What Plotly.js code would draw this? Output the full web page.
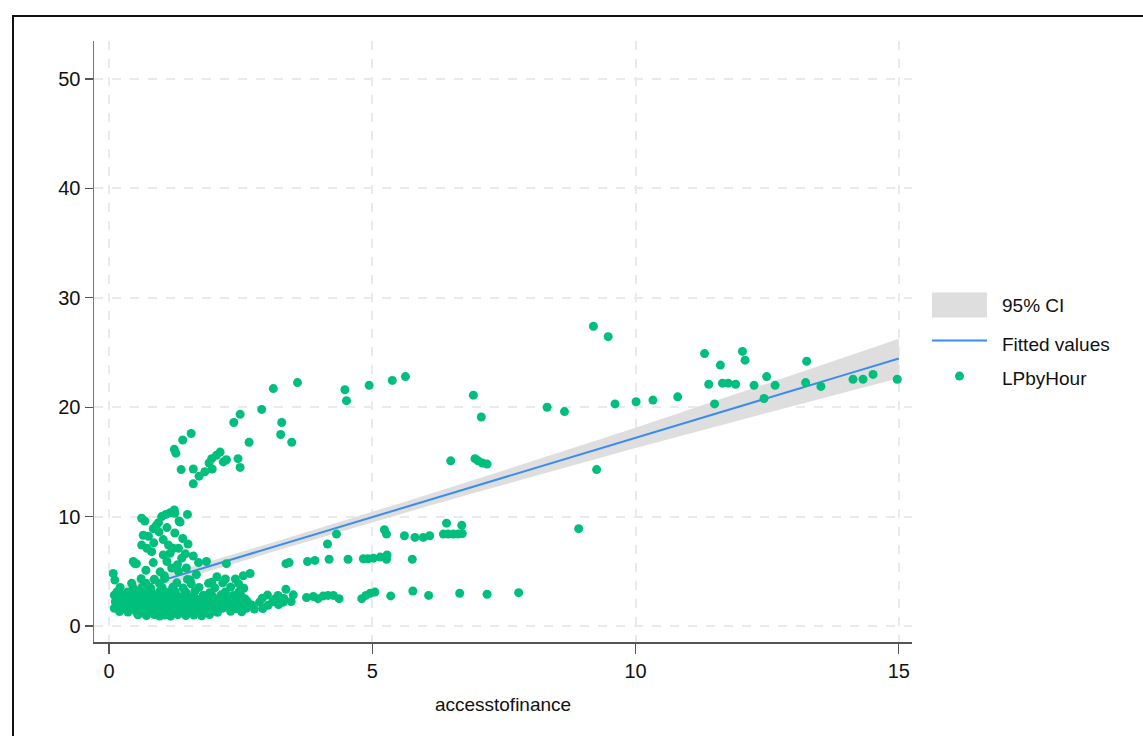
<!DOCTYPE html>
<html>
<head>
<meta charset="utf-8">
<script src="https://cdn.plot.ly/plotly-3.0.1.min.js"></script>
<style>
  html, body { margin: 0; padding: 0; background: #fff; }
  #frame { position: absolute; left: 12px; top: 15px; width: 1131px; height: 721px;
           border-left: 2px solid #111; border-top: 2px solid #111; pointer-events: none; z-index: 5; }
  #chart { position: absolute; left: 0; top: 0; width: 1143px; height: 736px; }
</style>
</head>
<body>
<div id="chart"></div>
<div id="frame"></div>
<script>
// ---- Data ----
// Fitted regression line and 95% confidence band
const fitX   = [0.1, 1, 2, 3, 4, 5, 6, 7, 8, 9, 10, 11, 12, 13, 14, 15];
const fitY   = [2.85, 4.15, 5.6, 7.05, 8.5, 9.95, 11.4, 12.85, 14.3, 15.75, 17.2, 18.65, 20.1, 21.55, 23.0, 24.45];
const ciLow  = [2.30, 3.67, 5.16, 6.62, 8.06, 9.48, 10.88, 12.25, 13.60, 14.95, 16.28, 17.55, 18.85, 20.10, 21.40, 22.65];
const ciHigh = [3.40, 4.63, 6.04, 7.48, 8.94, 10.42, 11.92, 13.45, 15.00, 16.55, 18.12, 19.75, 21.35, 23.00, 24.60, 26.25];

// LPbyHour observations (accesstofinance, LPbyHour)
const accessToFinance = [
  // upper-left group
  3.12, 3.58, 2.90, 2.49, 2.37, 3.28, 3.26, 3.47, 2.66, 1.56, 1.40, 1.24, 1.27, 1.37, 1.60, 1.60, 1.71, 1.82, 1.96, 1.95, 2.04, 2.11, 2.23, 2.17, 2.45, 2.49, 1.90,
  // mid group
  4.48, 4.51, 4.94, 5.38, 5.63, 6.92, 7.07, 8.32, 6.49, 6.95, 7.01, 7.09, 7.18, 6.41, 6.70,
  6.35, 6.44, 6.54, 6.63, 6.71, 6.09, 5.97, 5.81, 5.61, 5.23, 5.27, 4.32, 4.15,
  3.36, 3.42, 3.77, 3.91, 4.18, 4.54, 4.83, 4.92, 5.02, 5.15, 5.28, 5.27, 5.76,
  3.75, 3.88, 3.97, 4.07, 4.16, 4.26, 4.37, 4.80, 4.88, 4.96, 5.05,
  5.35, 5.77, 6.07, 6.66, 7.18, 7.78, 3.50,
  // right group
  8.65, 9.20, 9.48, 9.61, 10.01, 10.33, 10.80,
  11.31, 11.39, 11.50, 11.61, 11.65, 11.76, 11.90, 12.03, 12.08, 12.25, 12.44, 12.49, 12.65, 13.25, 13.23, 13.52, 14.13, 14.32, 14.51, 14.97,
  9.26, 8.92,
  // cluster 4-11
  0.62, 0.68, 1.00, 1.08, 1.16, 1.24, 1.33, 1.49, 1.25, 1.35, 0.94, 0.84, 0.65, 0.75, 0.62, 0.72, 0.81, 1.03, 1.13, 1.22, 1.32, 1.03, 1.16, 1.38,
  0.49, 0.46, 0.52, 0.84, 0.97, 1.19, 1.32, 1.47, 1.85, 2.23, 2.68, 0.08, 0.11, 0.43, 1.54, 1.66,
  0.90, 1.10, 0.95, 1.25, 1.40, 0.85, 1.50, 1.45, 1.60, 1.10, 1.30, 1.70, 0.70, 1.05, 2.05, 2.40, 2.55, 1.95,
  // dense lower cluster
  0.55, 0.71, 0.86, 0.96, 1.06, 1.17, 1.31, 1.46, 1.61, 1.76, 1.91,
  0.20, 0.36, 0.51, 0.66, 0.81, 1.01, 1.21, 1.41, 1.56, 1.71, 1.86, 2.06, 2.31, 2.52,
  0.10, 0.25, 0.41, 0.60, 0.76, 0.91, 1.11, 1.26, 1.36, 1.51, 1.66, 1.81, 2.01, 2.16, 2.41, 2.61, 2.76, 2.92,
  0.15, 0.31, 0.45, 0.56, 0.70, 0.86, 1.00, 1.16, 1.31, 1.46, 1.61, 1.76, 1.96, 2.11, 2.31, 2.56, 2.71, 3.02, 3.22,
  0.12, 0.22, 0.38, 0.50, 0.63, 0.78, 0.93, 1.08, 1.23, 1.38, 1.56, 1.71, 1.88, 2.06, 2.26, 2.46, 2.63, 2.86, 3.11, 3.31, 3.46,
  0.18, 0.32, 0.48, 0.61, 0.73, 0.88, 1.03, 1.18, 1.33, 1.51, 1.66, 1.83, 2.01, 2.21, 2.41, 2.59, 2.91, 3.16, 3.32,
  0.10, 0.26, 0.42, 0.58, 0.69, 0.83, 0.98, 1.13, 1.28, 1.43, 1.61, 1.79, 1.96, 2.13, 2.36, 2.51, 3.01, 3.21, 3.36,
  0.15, 0.35, 0.53, 0.66, 0.80, 0.96, 1.11, 1.26, 1.46, 1.63, 1.91, 2.21, 2.46,
  0.21, 0.46, 0.63, 0.79, 1.01, 1.21, 1.41, 1.71, 2.01, 2.31, 2.56,
  0.70, 0.96, 1.29, 1.56, 1.89, 2.16, 2.46,
  0.61, 0.86, 1.06, 1.49, 2.21
];
const lpByHour = [
  // upper-left group
  21.7, 22.25, 19.8, 19.35, 18.6, 18.6, 17.5, 16.8, 16.8, 17.6, 17.0, 16.15, 15.8, 14.3, 14.35, 13.0, 13.7, 14.1, 14.35, 15.3, 15.6, 15.9, 15.2, 15.0, 15.3, 14.5, 14.9,
  // mid group
  21.6, 20.6, 22.0, 22.45, 22.8, 21.1, 19.1, 20.0, 15.1, 15.3, 15.1, 14.9, 14.8, 9.4, 9.2,
  8.4, 8.4, 8.4, 8.4, 8.45, 8.25, 8.1, 8.1, 8.25, 8.8, 8.4, 8.4, 7.5,
  5.7, 5.8, 5.9, 6.0, 6.1, 6.1, 6.15, 6.15, 6.2, 6.3, 6.5, 6.1, 6.1,
  2.6, 2.7, 2.5, 2.75, 2.8, 2.8, 2.5, 2.5, 2.8, 3.0, 3.1,
  2.75, 3.2, 2.8, 3.0, 2.9, 3.05, 2.85,
  // right group
  19.6, 27.4, 26.45, 20.3, 20.5, 20.65, 20.95,
  24.9, 22.1, 20.3, 23.85, 22.2, 22.2, 22.1, 25.1, 24.3, 22.0, 20.8, 22.8, 22.0, 24.2, 22.25, 21.9, 22.55, 22.55, 23.0, 22.55,
  14.3, 8.9,
  // cluster 4-11
  9.85, 9.6, 10.0, 10.2, 10.35, 10.6, 9.6, 10.2, 10.3, 9.5, 9.45, 8.9, 8.3, 8.2, 7.4, 7.1, 6.8, 7.9, 7.4, 7.1, 7.1, 6.5, 6.65, 6.2,
  5.7, 5.9, 5.7, 5.8, 4.95, 5.3, 5.0, 5.3, 5.9, 5.7, 4.8, 4.8, 4.2, 3.9, 4.2, 4.7,
  9.2, 9.0, 8.6, 8.5, 8.0, 7.6, 7.5, 6.6, 6.4, 5.9, 5.6, 5.8, 5.1, 4.6, 4.5, 4.3, 4.6, 4.0,
  // dense lower cluster
  1.02, 0.95, 1.05, 0.92, 1.0, 0.9, 1.04, 0.96, 1.0, 0.93, 1.05,
  1.32, 1.28, 1.35, 1.25, 1.3, 1.34, 1.27, 1.31, 1.24, 1.33, 1.29, 1.26, 1.35, 1.3,
  1.62, 1.58, 1.65, 1.55, 1.6, 1.64, 1.57, 1.63, 1.56, 1.61, 1.66, 1.54, 1.6, 1.63, 1.58, 1.62, 1.55, 1.6,
  1.92, 1.88, 1.95, 1.86, 1.9, 1.94, 1.87, 1.93, 1.89, 1.96, 1.85, 1.91, 1.88, 1.95, 1.9, 1.86, 1.93, 1.9, 1.95,
  2.22, 2.18, 2.25, 2.16, 2.2, 2.24, 2.17, 2.23, 2.19, 2.26, 2.15, 2.21, 2.18, 2.25, 2.2, 2.16, 2.23, 2.19, 2.22, 2.18, 2.24,
  2.52, 2.48, 2.55, 2.46, 2.5, 2.54, 2.47, 2.53, 2.49, 2.56, 2.45, 2.51, 2.48, 2.55, 2.5, 2.46, 2.53, 2.49, 2.52,
  2.82, 2.78, 2.85, 2.76, 2.8, 2.84, 2.77, 2.83, 2.79, 2.86, 2.75, 2.81, 2.78, 2.85, 2.8, 2.76, 2.83, 2.79, 3.35,
  3.12, 3.08, 3.15, 3.06, 3.1, 3.14, 3.07, 3.13, 3.09, 3.16, 3.05, 3.11, 3.08,
  3.52, 3.48, 3.55, 3.46, 3.5, 3.54, 3.47, 3.53, 3.49, 3.56, 3.45,
  3.92, 3.88, 3.95, 3.86, 3.9, 3.94, 3.87,
  4.32, 4.28, 4.35, 4.26, 4.3
];

const xTicks = [0, 5, 10, 15];
const yTicks = [0, 10, 20, 30, 40, 50];
const xTitle = 'accesstofinance';
const seriesNames = ['95% CI', 'Fitted values', 'LPbyHour'];

const COL_BAND = 'rgb(222,222,222)';
const COL_LINE = 'rgb(58,140,242)';
const COL_DOT  = 'rgb(0,191,125)';
const FONT = '"Liberation Sans", Arial, sans-serif';

// ---- Traces ----
const bandX = fitX.concat(fitX.slice().reverse());
const bandY = ciHigh.concat(ciLow.slice().reverse());

const traces = [
  {
    x: bandX, y: bandY, type: 'scatter', mode: 'lines', fill: 'toself',
    fillcolor: COL_BAND, line: { width: 0, color: COL_BAND },
    name: seriesNames[0], hoverinfo: 'skip'
  },
  {
    x: fitX, y: fitY, type: 'scatter', mode: 'lines',
    line: { color: COL_LINE, width: 2 },
    name: seriesNames[1]
  },
  {
    x: accessToFinance, y: lpByHour, type: 'scatter', mode: 'markers',
    marker: { color: COL_DOT, size: 9, line: { width: 0 } },
    name: seriesNames[2]
  }
];

// ---- Hand-drawn legend (paper coordinates, right of the plot) ----
const legX0 = 1.0244, legX1 = 1.0917, legTextX = 1.108;
const legRowsY = [0.5607, 0.4958, 0.4385];
const shapes = [
  { type: 'rect', xref: 'paper', yref: 'paper', x0: legX0, x1: legX1,
    y0: legRowsY[0] - 0.0208, y1: legRowsY[0] + 0.0208,
    fillcolor: COL_BAND, line: { width: 0 } },
  { type: 'line', xref: 'paper', yref: 'paper', x0: legX0, x1: legX1,
    y0: legRowsY[1] + 0.006, y1: legRowsY[1] + 0.006,
    line: { color: COL_LINE, width: 2 } },
  { type: 'circle', xref: 'paper', yref: 'paper', xsizemode: 'pixel', ysizemode: 'pixel',
    xanchor: (legX0 + legX1) / 2, yanchor: legRowsY[2] + 0.004,
    x0: -4.5, x1: 4.5, y0: -4.5, y1: 4.5,
    fillcolor: COL_DOT, line: { width: 0 } }
];
const annotations = seriesNames.map((name, i) => ({
  text: name, xref: 'paper', yref: 'paper', x: legTextX, y: legRowsY[i],
  xanchor: 'left', yanchor: 'middle', showarrow: false,
  font: { family: FONT, size: 19, color: '#111' }
}));

const layout = {
  width: 1143, height: 736,
  margin: { l: 94, r: 231, t: 41, b: 94 },
  paper_bgcolor: '#fff', plot_bgcolor: '#fff',
  font: { family: FONT, size: 20, color: '#111' },
  showlegend: false,
  shapes: shapes,
  annotations: annotations,
  xaxis: {
    range: [-0.285, 15.25], tickvals: xTicks, ticktext: xTicks.map(String),
    showgrid: true, gridcolor: 'rgb(234,234,234)', gridwidth: 2, griddash: 'dash',
    zeroline: false, showline: true, linecolor: '#555', linewidth: 1.5,
    ticks: 'outside', ticklen: 10, tickcolor: '#555', tickwidth: 1.3,
    tickfont: { family: FONT, size: 20, color: '#111' },
    title: { text: xTitle, standoff: 17, font: { family: FONT, size: 19, color: '#111' } }
  },
  yaxis: {
    range: [-1.46, 53.47], tickvals: yTicks, ticktext: yTicks.map(String),
    showgrid: true, gridcolor: 'rgb(234,234,234)', gridwidth: 2, griddash: 'dash',
    zeroline: false, showline: true, linecolor: '#777', linewidth: 1.5,
    ticks: 'outside', ticklen: 8, tickcolor: '#555', tickwidth: 1.3,
    tickfont: { family: FONT, size: 20, color: '#111' }
  }
};

Plotly.newPlot('chart', traces, layout, { displayModeBar: false, staticPlot: true });
</script>
</body>
</html>
